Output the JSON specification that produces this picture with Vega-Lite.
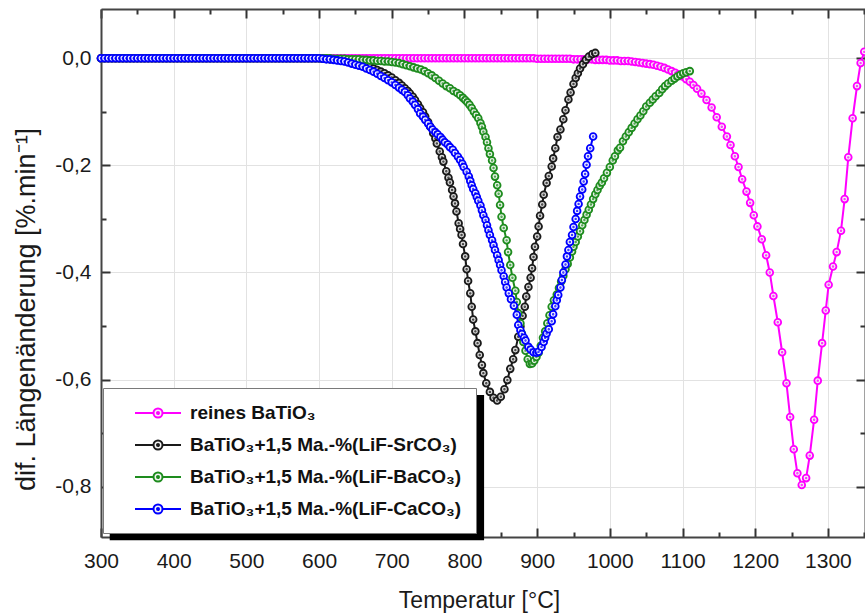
{
"$schema":"https://vega.github.io/schema/vega-lite/v6.json",
"width":764,"height":528,
"autosize":{"type":"none"},
"padding":{"left":101,"top":9,"right":0,"bottom":78},
"background":"white",
"config":{"view":{"stroke":null},"font":"Liberation Sans"},
"data":{"values":[
{"s":"P","t":300,"v":0},{"s":"P","t":305,"v":0},{"s":"P","t":310,"v":0},{"s":"P","t":315,"v":0},{"s":"P","t":320,"v":0},{"s":"P","t":325,"v":0},{"s":"P","t":330,"v":0},{"s":"P","t":335,"v":0},{"s":"P","t":340,"v":0},{"s":"P","t":345,"v":0},{"s":"P","t":350,"v":0},{"s":"P","t":355,"v":0},{"s":"P","t":360,"v":0},{"s":"P","t":365,"v":0},{"s":"P","t":370,"v":0},{"s":"P","t":375,"v":0},{"s":"P","t":380,"v":0},{"s":"P","t":385,"v":0},{"s":"P","t":390,"v":0},{"s":"P","t":395,"v":0},
{"s":"P","t":400,"v":0},{"s":"P","t":405,"v":0},{"s":"P","t":410,"v":0},{"s":"P","t":415,"v":0},{"s":"P","t":420,"v":0},{"s":"P","t":425,"v":0},{"s":"P","t":430,"v":0},{"s":"P","t":435,"v":0},{"s":"P","t":440,"v":0},{"s":"P","t":445,"v":0},{"s":"P","t":450,"v":0},{"s":"P","t":455,"v":0},{"s":"P","t":460,"v":0},{"s":"P","t":465,"v":0},{"s":"P","t":470,"v":0},{"s":"P","t":475,"v":0},{"s":"P","t":480,"v":0},{"s":"P","t":485,"v":0},{"s":"P","t":490,"v":0},{"s":"P","t":495,"v":0},
{"s":"P","t":500,"v":0},{"s":"P","t":505,"v":0},{"s":"P","t":510,"v":0},{"s":"P","t":515,"v":0},{"s":"P","t":520,"v":0},{"s":"P","t":525,"v":0},{"s":"P","t":530,"v":0},{"s":"P","t":535,"v":0},{"s":"P","t":540,"v":0},{"s":"P","t":545,"v":0},{"s":"P","t":550,"v":0},{"s":"P","t":555,"v":0},{"s":"P","t":560,"v":0},{"s":"P","t":565,"v":0},{"s":"P","t":570,"v":0},{"s":"P","t":575,"v":0},{"s":"P","t":580,"v":0},{"s":"P","t":585,"v":0},{"s":"P","t":590,"v":0},{"s":"P","t":595,"v":0},
{"s":"P","t":600,"v":0},{"s":"P","t":605,"v":0},{"s":"P","t":610,"v":0},{"s":"P","t":615,"v":0},{"s":"P","t":620,"v":0},{"s":"P","t":625,"v":0},{"s":"P","t":630,"v":0},{"s":"P","t":635,"v":0},{"s":"P","t":640,"v":0},{"s":"P","t":645,"v":0},{"s":"P","t":650,"v":0},{"s":"P","t":655,"v":0},{"s":"P","t":660,"v":0},{"s":"P","t":665,"v":0},{"s":"P","t":670,"v":0},{"s":"P","t":675,"v":0},{"s":"P","t":680,"v":0},{"s":"P","t":685,"v":0},{"s":"P","t":690,"v":0},{"s":"P","t":695,"v":0},
{"s":"P","t":700,"v":0},{"s":"P","t":705,"v":0},{"s":"P","t":710,"v":0},{"s":"P","t":715,"v":0},{"s":"P","t":720,"v":0},{"s":"P","t":725,"v":0},{"s":"P","t":730,"v":0},{"s":"P","t":735,"v":0},{"s":"P","t":740,"v":0},{"s":"P","t":745,"v":0},{"s":"P","t":750,"v":0},{"s":"P","t":755,"v":0},{"s":"P","t":760,"v":0},{"s":"P","t":765,"v":0},{"s":"P","t":770,"v":0},{"s":"P","t":775,"v":0},{"s":"P","t":780,"v":0},{"s":"P","t":785,"v":0},{"s":"P","t":790,"v":0},{"s":"P","t":795,"v":0},
{"s":"P","t":800,"v":0},{"s":"P","t":805,"v":0},{"s":"P","t":810,"v":0},{"s":"P","t":815,"v":0},{"s":"P","t":820,"v":0},{"s":"P","t":825,"v":0},{"s":"P","t":830,"v":0},{"s":"P","t":835,"v":0},{"s":"P","t":840,"v":0},{"s":"P","t":845,"v":0},{"s":"P","t":850,"v":0},{"s":"P","t":855,"v":0},{"s":"P","t":860,"v":0},{"s":"P","t":865,"v":0},{"s":"P","t":870,"v":0},{"s":"P","t":875,"v":0},{"s":"P","t":880,"v":0},{"s":"P","t":885,"v":0},{"s":"P","t":890,"v":0},{"s":"P","t":895,"v":0},
{"s":"P","t":900,"v":-0.001},{"s":"P","t":905,"v":-0.001},{"s":"P","t":910,"v":-0.001},{"s":"P","t":915,"v":-0.001},{"s":"P","t":920,"v":-0.001},{"s":"P","t":925,"v":-0.001},{"s":"P","t":930,"v":-0.001},{"s":"P","t":935,"v":-0.001},{"s":"P","t":940,"v":-0.001},{"s":"P","t":945,"v":-0.001},{"s":"P","t":950,"v":-0.002},{"s":"P","t":955,"v":-0.002},{"s":"P","t":960,"v":-0.002},{"s":"P","t":965,"v":-0.002},{"s":"P","t":970,"v":-0.002},{"s":"P","t":975,"v":-0.002},{"s":"P","t":980,"v":-0.003},{"s":"P","t":985,"v":-0.003},{"s":"P","t":990,"v":-0.003},{"s":"P","t":995,"v":-0.003},
{"s":"P","t":1000,"v":-0.004},{"s":"P","t":1005,"v":-0.004},{"s":"P","t":1010,"v":-0.004},{"s":"P","t":1015,"v":-0.005},{"s":"P","t":1020,"v":-0.005},{"s":"P","t":1025,"v":-0.005},{"s":"P","t":1030,"v":-0.006},{"s":"P","t":1035,"v":-0.007},{"s":"P","t":1040,"v":-0.008},{"s":"P","t":1045,"v":-0.009},{"s":"P","t":1050,"v":-0.010},{"s":"P","t":1055,"v":-0.011},{"s":"P","t":1060,"v":-0.012},{"s":"P","t":1065,"v":-0.014},{"s":"P","t":1070,"v":-0.016},{"s":"P","t":1075,"v":-0.018},{"s":"P","t":1080,"v":-0.021},{"s":"P","t":1085,"v":-0.024},{"s":"P","t":1090,"v":-0.027},{"s":"P","t":1095,"v":-0.030},
{"s":"P","t":1100,"v":-0.034},{"s":"P","t":1105,"v":-0.039},{"s":"P","t":1110,"v":-0.044},{"s":"P","t":1115,"v":-0.050},{"s":"P","t":1120,"v":-0.057},{"s":"P","t":1126,"v":-0.066},{"s":"P","t":1133,"v":-0.078},{"s":"P","t":1140,"v":-0.092},{"s":"P","t":1147,"v":-0.110},{"s":"P","t":1154,"v":-0.128},{"s":"P","t":1161,"v":-0.146},{"s":"P","t":1166,"v":-0.162},{"s":"P","t":1172,"v":-0.183},{"s":"P","t":1177,"v":-0.203},{"s":"P","t":1182,"v":-0.226},{"s":"P","t":1188,"v":-0.249},{"s":"P","t":1193,"v":-0.270},{"s":"P","t":1198,"v":-0.293},
{"s":"P","t":1203,"v":-0.314},{"s":"P","t":1209,"v":-0.338},{"s":"P","t":1215,"v":-0.368},{"s":"P","t":1220,"v":-0.400},{"s":"P","t":1225,"v":-0.444},{"s":"P","t":1231,"v":-0.493},{"s":"P","t":1237,"v":-0.549},{"s":"P","t":1243,"v":-0.607},{"s":"P","t":1248,"v":-0.670},{"s":"P","t":1253,"v":-0.730},{"s":"P","t":1258,"v":-0.775},{"s":"P","t":1264,"v":-0.797},{"s":"P","t":1270,"v":-0.784},{"s":"P","t":1275,"v":-0.742},{"s":"P","t":1281,"v":-0.675},{"s":"P","t":1286,"v":-0.602},{"s":"P","t":1292,"v":-0.532},{"s":"P","t":1297,"v":-0.471},
{"s":"P","t":1301,"v":-0.423},{"s":"P","t":1307,"v":-0.389},{"s":"P","t":1312,"v":-0.362},{"s":"P","t":1318,"v":-0.322},{"s":"P","t":1323,"v":-0.263},{"s":"P","t":1328,"v":-0.185},{"s":"P","t":1334,"v":-0.112},{"s":"P","t":1340,"v":-0.052},{"s":"P","t":1345,"v":-0.009},{"s":"P","t":1350,"v":0.012},

{"s":"S","t":300,"v":0},{"s":"S","t":305,"v":0},{"s":"S","t":310,"v":0},{"s":"S","t":315,"v":0},{"s":"S","t":320,"v":0},{"s":"S","t":325,"v":0},{"s":"S","t":330,"v":0},{"s":"S","t":335,"v":0},{"s":"S","t":340,"v":0},{"s":"S","t":345,"v":0},{"s":"S","t":350,"v":0},{"s":"S","t":355,"v":0},{"s":"S","t":360,"v":0},{"s":"S","t":365,"v":0},{"s":"S","t":370,"v":0},{"s":"S","t":375,"v":0},{"s":"S","t":380,"v":0},{"s":"S","t":385,"v":0},{"s":"S","t":390,"v":0},{"s":"S","t":395,"v":0},
{"s":"S","t":400,"v":0},{"s":"S","t":405,"v":0},{"s":"S","t":410,"v":0},{"s":"S","t":415,"v":0},{"s":"S","t":420,"v":0},{"s":"S","t":425,"v":0},{"s":"S","t":430,"v":0},{"s":"S","t":435,"v":0},{"s":"S","t":440,"v":0},{"s":"S","t":445,"v":0},{"s":"S","t":450,"v":0},{"s":"S","t":455,"v":0},{"s":"S","t":460,"v":0},{"s":"S","t":465,"v":0},{"s":"S","t":470,"v":0},{"s":"S","t":475,"v":0},{"s":"S","t":480,"v":0},{"s":"S","t":485,"v":0},{"s":"S","t":490,"v":0},{"s":"S","t":495,"v":0},
{"s":"S","t":500,"v":0},{"s":"S","t":505,"v":0},{"s":"S","t":510,"v":0},{"s":"S","t":515,"v":0},{"s":"S","t":520,"v":0},{"s":"S","t":525,"v":0},{"s":"S","t":530,"v":0},{"s":"S","t":535,"v":0},{"s":"S","t":540,"v":0},{"s":"S","t":545,"v":0},{"s":"S","t":550,"v":0},{"s":"S","t":555,"v":0},{"s":"S","t":560,"v":0},{"s":"S","t":565,"v":0},{"s":"S","t":570,"v":0},{"s":"S","t":575,"v":0},{"s":"S","t":580,"v":0},{"s":"S","t":585,"v":0},{"s":"S","t":590,"v":0},{"s":"S","t":595,"v":0},
{"s":"S","t":600,"v":0},{"s":"S","t":605,"v":-0.001},{"s":"S","t":610,"v":-0.001},{"s":"S","t":615,"v":-0.002},{"s":"S","t":620,"v":-0.002},{"s":"S","t":625,"v":-0.003},{"s":"S","t":630,"v":-0.004},{"s":"S","t":635,"v":-0.005},{"s":"S","t":640,"v":-0.006},{"s":"S","t":645,"v":-0.007},{"s":"S","t":650,"v":-0.008},{"s":"S","t":655,"v":-0.010},{"s":"S","t":660,"v":-0.012},{"s":"S","t":665,"v":-0.014},{"s":"S","t":670,"v":-0.016},{"s":"S","t":675,"v":-0.019},{"s":"S","t":680,"v":-0.022},{"s":"S","t":685,"v":-0.025},{"s":"S","t":690,"v":-0.028},{"s":"S","t":695,"v":-0.032},
{"s":"S","t":700,"v":-0.036},{"s":"S","t":705,"v":-0.041},{"s":"S","t":710,"v":-0.046},{"s":"S","t":714,"v":-0.051},{"s":"S","t":718,"v":-0.056},{"s":"S","t":722,"v":-0.061},{"s":"S","t":725,"v":-0.066},{"s":"S","t":729,"v":-0.072},{"s":"S","t":732,"v":-0.078},{"s":"S","t":736,"v":-0.086},{"s":"S","t":739,"v":-0.093},{"s":"S","t":743,"v":-0.101},{"s":"S","t":746,"v":-0.109},{"s":"S","t":750,"v":-0.119},{"s":"S","t":753,"v":-0.128},{"s":"S","t":757,"v":-0.140},{"s":"S","t":760,"v":-0.150},{"s":"S","t":762,"v":-0.159},{"s":"S","t":766,"v":-0.174},{"s":"S","t":769,"v":-0.185},
{"s":"S","t":771,"v":-0.193},{"s":"S","t":775,"v":-0.211},{"s":"S","t":778,"v":-0.223},{"s":"S","t":780,"v":-0.232},{"s":"S","t":783,"v":-0.246},{"s":"S","t":785,"v":-0.258},{"s":"S","t":787,"v":-0.271},{"s":"S","t":789,"v":-0.286},{"s":"S","t":792,"v":-0.308},{"s":"S","t":794,"v":-0.319},{"s":"S","t":796,"v":-0.330},{"s":"S","t":798,"v":-0.347},{"s":"S","t":801,"v":-0.370},{"s":"S","t":803,"v":-0.394},{"s":"S","t":805,"v":-0.416},{"s":"S","t":808,"v":-0.439},{"s":"S","t":810,"v":-0.464},{"s":"S","t":812,"v":-0.488},{"s":"S","t":815,"v":-0.510},{"s":"S","t":818,"v":-0.532},
{"s":"S","t":821,"v":-0.554},{"s":"S","t":824,"v":-0.573},{"s":"S","t":826,"v":-0.588},{"s":"S","t":830,"v":-0.607},{"s":"S","t":835,"v":-0.623},{"s":"S","t":840,"v":-0.634},{"s":"S","t":845,"v":-0.639},{"s":"S","t":850,"v":-0.632},{"s":"S","t":855,"v":-0.618},{"s":"S","t":859,"v":-0.601},{"s":"S","t":863,"v":-0.580},{"s":"S","t":867,"v":-0.562},{"s":"S","t":870,"v":-0.545},{"s":"S","t":874,"v":-0.520},{"s":"S","t":877,"v":-0.501},{"s":"S","t":880,"v":-0.481},{"s":"S","t":883,"v":-0.464},{"s":"S","t":885,"v":-0.445},{"s":"S","t":888,"v":-0.427},{"s":"S","t":891,"v":-0.410},
{"s":"S","t":893,"v":-0.392},{"s":"S","t":895,"v":-0.371},{"s":"S","t":897,"v":-0.352},{"s":"S","t":900,"v":-0.333},{"s":"S","t":902,"v":-0.314},{"s":"S","t":904,"v":-0.294},{"s":"S","t":907,"v":-0.273},{"s":"S","t":909,"v":-0.255},{"s":"S","t":913,"v":-0.233},{"s":"S","t":916,"v":-0.220},{"s":"S","t":920,"v":-0.202},{"s":"S","t":922,"v":-0.187},{"s":"S","t":925,"v":-0.168},{"s":"S","t":928,"v":-0.147},{"s":"S","t":932,"v":-0.133},{"s":"S","t":936,"v":-0.114},{"s":"S","t":939,"v":-0.097},{"s":"S","t":943,"v":-0.077},{"s":"S","t":946,"v":-0.064},{"s":"S","t":950,"v":-0.048},
{"s":"S","t":953,"v":-0.037},{"s":"S","t":956,"v":-0.028},{"s":"S","t":959,"v":-0.019},{"s":"S","t":963,"v":-0.011},{"s":"S","t":967,"v":-0.003},{"s":"S","t":971,"v":0.003},{"s":"S","t":976,"v":0.008},{"s":"S","t":980,"v":0.010},

{"s":"B","t":300,"v":0},{"s":"B","t":305,"v":0},{"s":"B","t":310,"v":0},{"s":"B","t":315,"v":0},{"s":"B","t":320,"v":0},{"s":"B","t":325,"v":0},{"s":"B","t":330,"v":0},{"s":"B","t":335,"v":0},{"s":"B","t":340,"v":0},{"s":"B","t":345,"v":0},{"s":"B","t":350,"v":0},{"s":"B","t":355,"v":0},{"s":"B","t":360,"v":0},{"s":"B","t":365,"v":0},{"s":"B","t":370,"v":0},{"s":"B","t":375,"v":0},{"s":"B","t":380,"v":0},{"s":"B","t":385,"v":0},{"s":"B","t":390,"v":0},{"s":"B","t":395,"v":0},
{"s":"B","t":400,"v":0},{"s":"B","t":405,"v":0},{"s":"B","t":410,"v":0},{"s":"B","t":415,"v":0},{"s":"B","t":420,"v":0},{"s":"B","t":425,"v":0},{"s":"B","t":430,"v":0},{"s":"B","t":435,"v":0},{"s":"B","t":440,"v":0},{"s":"B","t":445,"v":0},{"s":"B","t":450,"v":0},{"s":"B","t":455,"v":0},{"s":"B","t":460,"v":0},{"s":"B","t":465,"v":0},{"s":"B","t":470,"v":0},{"s":"B","t":475,"v":0},{"s":"B","t":480,"v":0},{"s":"B","t":485,"v":0},{"s":"B","t":490,"v":0},{"s":"B","t":495,"v":0},
{"s":"B","t":500,"v":0},{"s":"B","t":505,"v":0},{"s":"B","t":510,"v":0},{"s":"B","t":515,"v":0},{"s":"B","t":520,"v":0},{"s":"B","t":525,"v":0},{"s":"B","t":530,"v":0},{"s":"B","t":535,"v":0},{"s":"B","t":540,"v":0},{"s":"B","t":545,"v":0},{"s":"B","t":550,"v":0},{"s":"B","t":555,"v":0},{"s":"B","t":560,"v":0},{"s":"B","t":565,"v":0},{"s":"B","t":570,"v":0},{"s":"B","t":575,"v":0},{"s":"B","t":580,"v":0},{"s":"B","t":585,"v":0},{"s":"B","t":590,"v":0},{"s":"B","t":595,"v":0},
{"s":"B","t":600,"v":0},{"s":"B","t":605,"v":0},{"s":"B","t":610,"v":0},{"s":"B","t":615,"v":0},{"s":"B","t":620,"v":-0.001},{"s":"B","t":625,"v":-0.001},{"s":"B","t":630,"v":-0.001},{"s":"B","t":635,"v":-0.001},{"s":"B","t":640,"v":-0.002},{"s":"B","t":645,"v":-0.002},{"s":"B","t":650,"v":-0.002},{"s":"B","t":655,"v":-0.002},{"s":"B","t":660,"v":-0.003},{"s":"B","t":665,"v":-0.003},{"s":"B","t":670,"v":-0.004},{"s":"B","t":675,"v":-0.004},{"s":"B","t":680,"v":-0.005},{"s":"B","t":685,"v":-0.005},{"s":"B","t":690,"v":-0.006},{"s":"B","t":695,"v":-0.006},
{"s":"B","t":700,"v":-0.007},{"s":"B","t":705,"v":-0.008},{"s":"B","t":710,"v":-0.009},{"s":"B","t":715,"v":-0.011},{"s":"B","t":720,"v":-0.013},{"s":"B","t":725,"v":-0.015},{"s":"B","t":730,"v":-0.017},{"s":"B","t":735,"v":-0.019},{"s":"B","t":740,"v":-0.021},{"s":"B","t":745,"v":-0.024},{"s":"B","t":750,"v":-0.028},{"s":"B","t":755,"v":-0.032},{"s":"B","t":760,"v":-0.037},{"s":"B","t":765,"v":-0.042},{"s":"B","t":770,"v":-0.047},{"s":"B","t":775,"v":-0.052},{"s":"B","t":780,"v":-0.056},{"s":"B","t":785,"v":-0.061},{"s":"B","t":790,"v":-0.065},{"s":"B","t":794,"v":-0.069},
{"s":"B","t":798,"v":-0.074},{"s":"B","t":801,"v":-0.078},{"s":"B","t":804,"v":-0.082},{"s":"B","t":807,"v":-0.087},{"s":"B","t":810,"v":-0.093},{"s":"B","t":813,"v":-0.100},{"s":"B","t":816,"v":-0.106},{"s":"B","t":819,"v":-0.112},{"s":"B","t":822,"v":-0.121},{"s":"B","t":824,"v":-0.128},{"s":"B","t":826,"v":-0.137},{"s":"B","t":829,"v":-0.147},{"s":"B","t":831,"v":-0.157},{"s":"B","t":833,"v":-0.168},{"s":"B","t":835,"v":-0.179},{"s":"B","t":838,"v":-0.191},{"s":"B","t":840,"v":-0.205},{"s":"B","t":842,"v":-0.221},{"s":"B","t":845,"v":-0.237},{"s":"B","t":847,"v":-0.253},
{"s":"B","t":849,"v":-0.274},{"s":"B","t":851,"v":-0.296},{"s":"B","t":854,"v":-0.317},{"s":"B","t":858,"v":-0.340},{"s":"B","t":860,"v":-0.362},{"s":"B","t":863,"v":-0.386},{"s":"B","t":866,"v":-0.410},{"s":"B","t":870,"v":-0.434},{"s":"B","t":872,"v":-0.455},{"s":"B","t":874,"v":-0.476},{"s":"B","t":877,"v":-0.495},{"s":"B","t":879,"v":-0.514},{"s":"B","t":881,"v":-0.530},{"s":"B","t":884,"v":-0.546},{"s":"B","t":887,"v":-0.562},{"s":"B","t":890,"v":-0.571},{"s":"B","t":893,"v":-0.570},{"s":"B","t":896,"v":-0.565},{"s":"B","t":899,"v":-0.558},{"s":"B","t":902,"v":-0.550},
{"s":"B","t":905,"v":-0.537},{"s":"B","t":908,"v":-0.522},{"s":"B","t":911,"v":-0.510},{"s":"B","t":914,"v":-0.495},{"s":"B","t":917,"v":-0.480},{"s":"B","t":920,"v":-0.464},{"s":"B","t":923,"v":-0.452},{"s":"B","t":927,"v":-0.441},{"s":"B","t":930,"v":-0.429},{"s":"B","t":933,"v":-0.417},{"s":"B","t":936,"v":-0.406},{"s":"B","t":939,"v":-0.394},{"s":"B","t":942,"v":-0.384},{"s":"B","t":945,"v":-0.372},{"s":"B","t":948,"v":-0.361},{"s":"B","t":950,"v":-0.352},{"s":"B","t":953,"v":-0.343},{"s":"B","t":956,"v":-0.333},{"s":"B","t":959,"v":-0.323},{"s":"B","t":962,"v":-0.312},
{"s":"B","t":965,"v":-0.302},{"s":"B","t":968,"v":-0.292},{"s":"B","t":971,"v":-0.283},{"s":"B","t":974,"v":-0.273},{"s":"B","t":977,"v":-0.263},{"s":"B","t":980,"v":-0.254},{"s":"B","t":983,"v":-0.246},{"s":"B","t":986,"v":-0.238},{"s":"B","t":989,"v":-0.232},{"s":"B","t":992,"v":-0.224},{"s":"B","t":996,"v":-0.214},{"s":"B","t":1000,"v":-0.203},{"s":"B","t":1004,"v":-0.191},{"s":"B","t":1007,"v":-0.183},{"s":"B","t":1011,"v":-0.172},{"s":"B","t":1014,"v":-0.167},{"s":"B","t":1018,"v":-0.155},{"s":"B","t":1022,"v":-0.146},{"s":"B","t":1026,"v":-0.138},{"s":"B","t":1030,"v":-0.130},
{"s":"B","t":1034,"v":-0.122},{"s":"B","t":1038,"v":-0.114},{"s":"B","t":1042,"v":-0.107},{"s":"B","t":1046,"v":-0.099},{"s":"B","t":1050,"v":-0.090},{"s":"B","t":1055,"v":-0.083},{"s":"B","t":1059,"v":-0.077},{"s":"B","t":1063,"v":-0.071},{"s":"B","t":1068,"v":-0.065},{"s":"B","t":1072,"v":-0.058},{"s":"B","t":1076,"v":-0.052},{"s":"B","t":1080,"v":-0.047},{"s":"B","t":1085,"v":-0.042},{"s":"B","t":1089,"v":-0.038},{"s":"B","t":1093,"v":-0.034},{"s":"B","t":1097,"v":-0.031},{"s":"B","t":1101,"v":-0.028},{"s":"B","t":1105,"v":-0.026},{"s":"B","t":1110,"v":-0.024},

{"s":"C","t":300,"v":0},{"s":"C","t":305,"v":0},{"s":"C","t":310,"v":0},{"s":"C","t":315,"v":0},{"s":"C","t":320,"v":0},{"s":"C","t":325,"v":0},{"s":"C","t":330,"v":0},{"s":"C","t":335,"v":0},{"s":"C","t":340,"v":0},{"s":"C","t":345,"v":0},{"s":"C","t":350,"v":0},{"s":"C","t":355,"v":0},{"s":"C","t":360,"v":0},{"s":"C","t":365,"v":0},{"s":"C","t":370,"v":0},{"s":"C","t":375,"v":0},{"s":"C","t":380,"v":0},{"s":"C","t":385,"v":0},{"s":"C","t":390,"v":0},{"s":"C","t":395,"v":0},
{"s":"C","t":400,"v":0},{"s":"C","t":405,"v":0},{"s":"C","t":410,"v":0},{"s":"C","t":415,"v":0},{"s":"C","t":420,"v":0},{"s":"C","t":425,"v":0},{"s":"C","t":430,"v":0},{"s":"C","t":435,"v":0},{"s":"C","t":440,"v":0},{"s":"C","t":445,"v":0},{"s":"C","t":450,"v":0},{"s":"C","t":455,"v":0},{"s":"C","t":460,"v":0},{"s":"C","t":465,"v":0},{"s":"C","t":470,"v":0},{"s":"C","t":475,"v":0},{"s":"C","t":480,"v":0},{"s":"C","t":485,"v":0},{"s":"C","t":490,"v":0},{"s":"C","t":495,"v":0},
{"s":"C","t":500,"v":0},{"s":"C","t":505,"v":0},{"s":"C","t":510,"v":0},{"s":"C","t":515,"v":0},{"s":"C","t":520,"v":0},{"s":"C","t":525,"v":0},{"s":"C","t":530,"v":0},{"s":"C","t":535,"v":0},{"s":"C","t":540,"v":0},{"s":"C","t":545,"v":0},{"s":"C","t":550,"v":0},{"s":"C","t":555,"v":0},{"s":"C","t":560,"v":0},{"s":"C","t":565,"v":0},{"s":"C","t":570,"v":0},{"s":"C","t":575,"v":0},{"s":"C","t":580,"v":0},{"s":"C","t":585,"v":0},{"s":"C","t":590,"v":0},{"s":"C","t":595,"v":0},
{"s":"C","t":600,"v":0},{"s":"C","t":605,"v":-0.001},{"s":"C","t":610,"v":-0.002},{"s":"C","t":615,"v":-0.002},{"s":"C","t":620,"v":-0.003},{"s":"C","t":625,"v":-0.004},{"s":"C","t":630,"v":-0.005},{"s":"C","t":635,"v":-0.006},{"s":"C","t":640,"v":-0.008},{"s":"C","t":645,"v":-0.010},{"s":"C","t":650,"v":-0.012},{"s":"C","t":655,"v":-0.014},{"s":"C","t":660,"v":-0.016},{"s":"C","t":665,"v":-0.019},{"s":"C","t":670,"v":-0.022},{"s":"C","t":675,"v":-0.025},{"s":"C","t":680,"v":-0.029},{"s":"C","t":685,"v":-0.033},{"s":"C","t":690,"v":-0.037},{"s":"C","t":695,"v":-0.041},
{"s":"C","t":700,"v":-0.045},{"s":"C","t":705,"v":-0.050},{"s":"C","t":710,"v":-0.055},{"s":"C","t":714,"v":-0.059},{"s":"C","t":718,"v":-0.063},{"s":"C","t":722,"v":-0.069},{"s":"C","t":725,"v":-0.075},{"s":"C","t":729,"v":-0.081},{"s":"C","t":732,"v":-0.087},{"s":"C","t":736,"v":-0.095},{"s":"C","t":739,"v":-0.103},{"s":"C","t":743,"v":-0.109},{"s":"C","t":746,"v":-0.115},{"s":"C","t":750,"v":-0.122},{"s":"C","t":753,"v":-0.128},{"s":"C","t":756,"v":-0.133},{"s":"C","t":760,"v":-0.138},{"s":"C","t":763,"v":-0.142},{"s":"C","t":767,"v":-0.147},{"s":"C","t":770,"v":-0.152},
{"s":"C","t":773,"v":-0.157},{"s":"C","t":777,"v":-0.161},{"s":"C","t":780,"v":-0.166},{"s":"C","t":784,"v":-0.171},{"s":"C","t":787,"v":-0.177},{"s":"C","t":791,"v":-0.184},{"s":"C","t":794,"v":-0.190},{"s":"C","t":797,"v":-0.197},{"s":"C","t":799,"v":-0.203},{"s":"C","t":803,"v":-0.212},{"s":"C","t":806,"v":-0.221},{"s":"C","t":808,"v":-0.229},{"s":"C","t":810,"v":-0.237},{"s":"C","t":812,"v":-0.244},{"s":"C","t":815,"v":-0.252},{"s":"C","t":817,"v":-0.259},{"s":"C","t":819,"v":-0.266},{"s":"C","t":822,"v":-0.275},{"s":"C","t":824,"v":-0.284},{"s":"C","t":826,"v":-0.293},
{"s":"C","t":829,"v":-0.302},{"s":"C","t":831,"v":-0.312},{"s":"C","t":833,"v":-0.321},{"s":"C","t":835,"v":-0.330},{"s":"C","t":838,"v":-0.340},{"s":"C","t":840,"v":-0.349},{"s":"C","t":842,"v":-0.358},{"s":"C","t":845,"v":-0.368},{"s":"C","t":847,"v":-0.377},{"s":"C","t":849,"v":-0.386},{"s":"C","t":851,"v":-0.396},{"s":"C","t":854,"v":-0.407},{"s":"C","t":856,"v":-0.418},{"s":"C","t":858,"v":-0.428},{"s":"C","t":861,"v":-0.439},{"s":"C","t":864,"v":-0.450},{"s":"C","t":868,"v":-0.462},{"s":"C","t":872,"v":-0.479},{"s":"C","t":874,"v":-0.498},{"s":"C","t":877,"v":-0.508},
{"s":"C","t":879,"v":-0.515},{"s":"C","t":882,"v":-0.522},{"s":"C","t":884,"v":-0.527},{"s":"C","t":888,"v":-0.539},{"s":"C","t":891,"v":-0.544},{"s":"C","t":895,"v":-0.549},{"s":"C","t":899,"v":-0.550},{"s":"C","t":902,"v":-0.548},{"s":"C","t":906,"v":-0.539},{"s":"C","t":909,"v":-0.530},{"s":"C","t":911,"v":-0.522},{"s":"C","t":913,"v":-0.514},{"s":"C","t":916,"v":-0.506},{"s":"C","t":920,"v":-0.491},{"s":"C","t":922,"v":-0.478},{"s":"C","t":925,"v":-0.463},{"s":"C","t":927,"v":-0.452},{"s":"C","t":929,"v":-0.442},{"s":"C","t":932,"v":-0.428},{"s":"C","t":934,"v":-0.414},
{"s":"C","t":936,"v":-0.400},{"s":"C","t":939,"v":-0.385},{"s":"C","t":941,"v":-0.370},{"s":"C","t":943,"v":-0.358},{"s":"C","t":945,"v":-0.343},{"s":"C","t":948,"v":-0.330},{"s":"C","t":950,"v":-0.315},{"s":"C","t":953,"v":-0.300},{"s":"C","t":955,"v":-0.285},{"s":"C","t":957,"v":-0.272},{"s":"C","t":959,"v":-0.258},{"s":"C","t":962,"v":-0.245},{"s":"C","t":964,"v":-0.230},{"s":"C","t":966,"v":-0.216},{"s":"C","t":968,"v":-0.199},{"s":"C","t":970,"v":-0.183},{"s":"C","t":973,"v":-0.168},{"s":"C","t":977,"v":-0.146}
]},
"layer":[
 {
  "encoding":{
   "x":{"field":"t","type":"quantitative","scale":{"domain":[300,1351],"nice":false,"zero":false},
    "axis":{"orient":"bottom","values":[300,350,400,450,500,550,600,650,700,750,800,850,900,950,1000,1050,1100,1150,1200,1250,1300,1350],
     "labelExpr":"datum.value % 100 === 0 ? format(datum.value, 'd') : ''",
     "labelFlush":false,"labelOverlap":false,"labelFont":"Liberation Sans","labelFontSize":21,"labelColor":"#1a1a1a","labelPadding":22,
     "tickSize":{"condition":{"test":"datum.value % 100 === 0","value":-9},"value":-5},
     "tickColor":"#333333","tickWidth":2,"domainColor":"#444444","domainWidth":2,
     "grid":true,"gridColor":"#e2e2e2","gridWidth":1,
     "gridOpacity":{"condition":{"test":"datum.value % 100 === 0","value":1},"value":0},
     "title":"Temperatur [°C]","titleFont":"Liberation Sans","titleFontSize":23,"titleFontWeight":"normal","titleColor":"#1a1a1a",
     "titleX":378,"titleY":70,"titleAlign":"center","titleBaseline":"alphabetic"}},
   "y":{"field":"v","type":"quantitative","scale":{"domain":[-0.894,0.092],"nice":false,"zero":false},
    "axis":{"orient":"left","values":[-0.8,-0.7,-0.6,-0.5,-0.4,-0.3,-0.2,-0.1,0],
     "labelExpr":"abs(round(datum.value*10)) % 2 === 0 ? (datum.value < -0.001 ? '-' : '') + replace(format(abs(datum.value), '.1f'), '.', ',') : ''",
     "labelOverlap":false,"labelFont":"Liberation Sans","labelFontSize":21,"labelColor":"#1a1a1a","labelPadding":19,
     "tickSize":{"condition":{"test":"abs(round(datum.value*10)) % 2 === 0","value":-9},"value":-5},
     "tickColor":"#333333","tickWidth":2,"domainColor":"#444444","domainWidth":2,
     "grid":true,"gridColor":"#e2e2e2","gridWidth":1,
     "gridOpacity":{"condition":{"test":"abs(round(datum.value*10)) % 2 === 0","value":1},"value":0},
     "title":"dif. Längenänderung [%.min⁻¹]","titleFont":"Liberation Sans","titleFontSize":27,"titleFontWeight":"normal","titleColor":"#1a1a1a",
     "titleX":-67,"titleY":300,"titleAngle":-90,"titleAlign":"center","titleBaseline":"alphabetic"}},
   "color":{"field":"s","type":"nominal",
    "scale":{"domain":["P","S","B","C"],"range":["#ff00ff","#1a1a1a","#1e8c1e","#0000ff"]},
    "legend":{"orient":"none","legendX":2,"legendY":379,"title":null,"direction":"vertical",
     "fillColor":"white","strokeColor":"#7a7a7a","padding":14,"rowPadding":11,
     "symbolType":"M0.7,0H2.55M3.45,0H5.3M2.55,0A0.45,0.45,0,1,1,3.45,0A0.45,0.45,0,1,1,2.55,0ZM2.9,0A0.1,0.1,0,1,1,3.1,0A0.1,0.1,0,1,1,2.9,0Z",
     "symbolSize":400,"symbolStrokeWidth":2,"symbolFillColor":"white",
     "labelFont":"Liberation Sans","labelFontSize":19,"labelFontWeight":"bold","labelColor":"#111111","labelOffset":51,"labelLimit":500,
     "labelExpr":"datum.value === 'P' ? 'reines BaTiO₃' : datum.value === 'S' ? 'BaTiO₃+1,5 Ma.-%(LiF-SrCO₃)' : datum.value === 'B' ? 'BaTiO₃+1,5 Ma.-%(LiF-BaCO₃)' : 'BaTiO₃+1,5 Ma.-%(LiF-CaCO₃)'",
     "encode":{"symbols":{"update":{"fill":{"value":"#f4f4f4"},"stroke":{"scale":"color","field":"value"},"strokeWidth":{"value":2},"opacity":{"value":1}}}}}
   }
  },
  "layer":[
   {"transform":[{"filter":"datum.s === 'P'"}],"layer":[
    {"mark":{"type":"line","strokeWidth":2}},
    {"mark":{"type":"point","shape":"circle","filled":false,"fill":"#f2f2f2","size":46,"strokeWidth":1.8,"opacity":1}},
    {"mark":{"type":"point","shape":"circle","filled":false,"size":1,"strokeWidth":1.4,"opacity":0.8}}]},
   {"transform":[{"filter":"datum.s === 'S'"}],"layer":[
    {"mark":{"type":"line","strokeWidth":2}},
    {"mark":{"type":"point","shape":"circle","filled":false,"fill":"#d8d8d8","size":46,"strokeWidth":1.8,"opacity":1}},
    {"mark":{"type":"point","shape":"circle","filled":false,"size":1,"strokeWidth":1.4,"opacity":0.8}}]},
   {"transform":[{"filter":"datum.s === 'B'"}],"layer":[
    {"mark":{"type":"line","strokeWidth":2}},
    {"mark":{"type":"point","shape":"circle","filled":false,"fill":"#e6f0e6","size":46,"strokeWidth":1.8,"opacity":1}},
    {"mark":{"type":"point","shape":"circle","filled":false,"size":1,"strokeWidth":1.4,"opacity":0.8}}]},
   {"transform":[{"filter":"datum.s === 'C'"}],"layer":[
    {"mark":{"type":"line","strokeWidth":2}},
    {"mark":{"type":"point","shape":"circle","filled":false,"fill":"#eeeeff","size":46,"strokeWidth":1.8,"opacity":1}},
    {"mark":{"type":"point","shape":"circle","filled":false,"size":1,"strokeWidth":1.4,"opacity":0.8}}]}
  ]
 },
 {
  "data":{"values":[{}]},
  "mark":{"type":"rect","color":"black","opacity":1},
  "encoding":{
   "x":{"datum":312,"type":"quantitative","scale":{"domain":[300,1351],"nice":false,"zero":false},
    "axis":{"orient":"top","values":[300,350,400,450,500,550,600,650,700,750,800,850,900,950,1000,1050,1100,1150,1200,1250,1300,1350],
     "labels":false,"title":null,"grid":false,
     "tickSize":{"condition":{"test":"datum.value % 100 === 0","value":-9},"value":-5},
     "tickColor":"#333333","tickWidth":2,"domainColor":"#444444","domainWidth":2}},
   "x2":{"datum":827},
   "y":{"datum":-0.629,"type":"quantitative","scale":{"domain":[-0.894,0.092],"nice":false,"zero":false},
    "axis":{"orient":"right","values":[-0.8,-0.7,-0.6,-0.5,-0.4,-0.3,-0.2,-0.1,0],
     "labels":false,"title":null,"grid":false,
     "tickSize":{"condition":{"test":"abs(round(datum.value*10)) % 2 === 0","value":-9},"value":-5},
     "tickColor":"#333333","tickWidth":2,"domainColor":"#444444","domainWidth":2}},
   "y2":{"datum":-0.9}
  }
 }
],
"resolve":{"axis":{"x":"independent","y":"independent"}}
}
